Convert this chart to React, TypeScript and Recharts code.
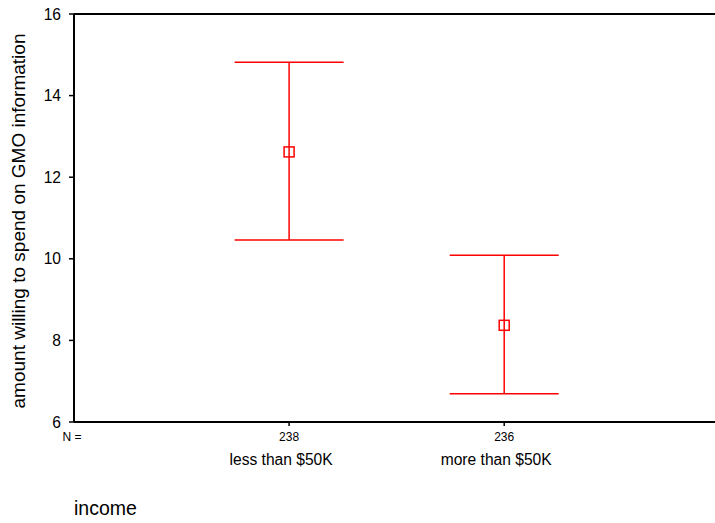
import { ComposedChart, Scatter, ErrorBar, XAxis, YAxis, ReferenceLine, Label } from "recharts"

const groups = ["less than $50K", "more than $50K"]
const nCounts = [238, 236]
const means = [12.62, 8.37]
const lowers = [10.46, 6.69]
const uppers = [14.82, 10.09]
const yTicks = [6, 8, 10, 12, 14, 16]

const data = groups.map((g, i) => ({
  pos: i + 1,
  name: g,
  n: nCounts[i],
  mean: means[i],
  err: [means[i] - lowers[i], uppers[i] - means[i]],
}))

const FONT = "'Liberation Sans', Arial, sans-serif"
const RED = "#ff0000"

const Square = (props: any) => {
  const { cx, cy } = props
  return <rect x={cx - 5} y={cy - 5} width={10} height={10} fill="none" stroke={RED} strokeWidth={1.5} />
}

const GroupTick = (props: any) => {
  const { x, y, payload } = props
  if (payload.value === 0) {
    return (
      <text x={x - 2} y={y + 19} textAnchor="middle" fontSize={12} fontFamily={FONT} fill="#000">
        N =
      </text>
    )
  }
  const d = data[payload.value - 1]
  return (
    <g>
      <line x1={x} x2={x} y1={y} y2={y + 4} stroke="#000" strokeWidth={1.5} />
      <text x={x} y={y + 19} textAnchor="middle" fontSize={12} fontFamily={FONT} fill="#000">
        {d.n}
      </text>
      {/* category names sit a little left of the tick in the original */}
      <text x={x - 8} y={y + 43} textAnchor="middle" fontSize={15.6} fontFamily={FONT} fill="#000">
        {d.name}
      </text>
    </g>
  )
}

export default function App() {
  return (
    <div style={{ position: "absolute", left: 0, top: 0, background: "#fff" }}>
      <ComposedChart width={715} height={523} data={data} margin={{ top: 14, right: 0, bottom: 0, left: 0 }}>
        <XAxis
          dataKey="pos"
          type="number"
          domain={[0, 2.98]}
          ticks={[0, 1, 2]}
          height={101}
          tickLine={false}
          tickSize={0}
          tickMargin={0}
          tick={<GroupTick />}
          axisLine={{ stroke: "#000", strokeWidth: 2 }}
        >
          <Label
            content={(p: any) => (
              <text
                x={p.viewBox.x}
                y={p.viewBox.y + p.viewBox.height - 8}
                fontSize={19.5}
                fontFamily={FONT}
                fill="#000"
              >
                income
              </text>
            )}
          />
        </XAxis>
        <YAxis
          type="number"
          domain={[6, 16]}
          ticks={yTicks}
          width={74}
          tickSize={5}
          tickMargin={8}
          tick={{ fontSize: 15.6, fontFamily: FONT, fill: "#000" }}
          tickLine={{ stroke: "#000", strokeWidth: 1.5 }}
          axisLine={{ stroke: "#000", strokeWidth: 2 }}
        >
          <Label
            content={(p: any) => {
              const cx = p.viewBox.x + 25
              const cy = p.viewBox.y + p.viewBox.height / 2 + 3
              return (
                <text
                  x={cx}
                  y={cy}
                  transform={`rotate(-90 ${cx} ${cy})`}
                  textAnchor="middle"
                  fontSize={19}
                  fontFamily={FONT}
                  fill="#000"
                >
                  amount willing to spend on GMO information
                </text>
              )
            }}
          />
        </YAxis>
        <ReferenceLine y={16} stroke="#000" strokeWidth={2} />
        <Scatter dataKey="mean" shape={<Square />} isAnimationActive={false}>
          <ErrorBar dataKey="err" direction="y" width={54.5} stroke={RED} strokeWidth={1.5} isAnimationActive={false} />
        </Scatter>
      </ComposedChart>
    </div>
  )
}
